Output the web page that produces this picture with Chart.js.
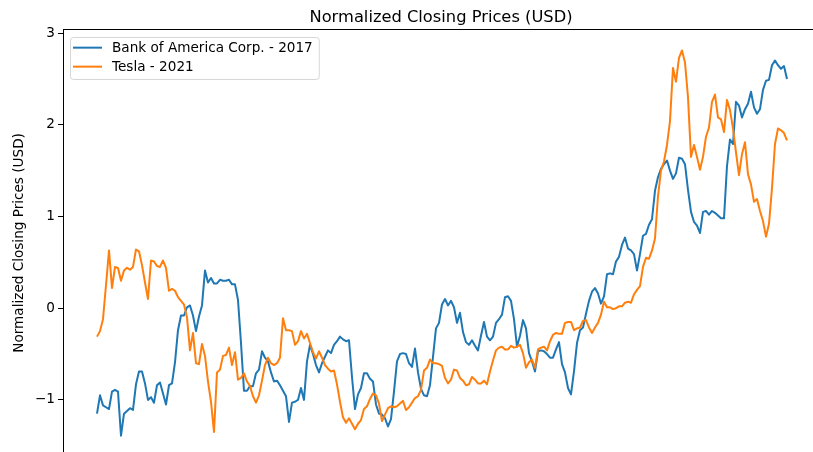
<!DOCTYPE html>
<html><head><meta charset="utf-8">
<script src="https://cdn.jsdelivr.net/npm/chart.js@4.4.1/dist/chart.umd.min.js"></script>
<style>
html,body{margin:0;padding:0;background:#fff;overflow:hidden;width:813px;height:452px;}
#wrap{position:absolute;left:0;top:0;width:882px;height:467px;}
</style></head><body>
<div id="wrap"><canvas id="c" width="882" height="467"></canvas></div>
<script>
const chartTitle = 'Normalized Closing Prices (USD)';
const yAxisLabel = 'Normalized Closing Prices (USD)';
const seriesLabels = ['Bank of America Corp. - 2017', 'Tesla - 2021'];
const seriesColors = ['#1f77b4', '#ff7f0e'];
const yTicks = [-1, 0, 1, 2, 3];

const bankOfAmerica2017 = [
  -1.15, -0.95, -1.06, -1.08, -1.10, -0.91, -0.89, -0.91, -1.39, -1.15,
  -1.12, -1.09, -1.11, -0.83, -0.69, -0.69, -0.82, -1.00, -0.97, -1.03,
  -0.84, -0.81, -0.93, -1.05, -0.84, -0.82, -0.59, -0.24, -0.08, -0.08,
  0.01, 0.03, -0.08, -0.25, -0.09, 0.03, 0.41, 0.28, 0.33, 0.27,
  0.27, 0.31, 0.30, 0.30, 0.31, 0.26, 0.26, 0.09, -0.38, -0.90,
  -0.90, -0.85, -0.85, -0.71, -0.67, -0.47, -0.54, -0.58, -0.70, -0.80,
  -0.79, -0.84, -0.90, -0.96, -1.24, -1.03, -1.02, -1.00, -0.87, -1.00,
  -0.58, -0.40, -0.50, -0.62, -0.70, -0.60, -0.53, -0.46, -0.49, -0.40,
  -0.36, -0.31, -0.34, -0.36, -0.35, -0.75, -1.10, -0.94, -0.87, -0.71,
  -0.71, -0.77, -0.80, -1.05, -1.15, -1.16, -1.20, -1.29, -1.21, -0.91,
  -0.58, -0.50, -0.49, -0.50, -0.60, -0.64, -0.44, -0.70, -0.88, -0.95,
  -0.96, -0.84, -0.53, -0.22, -0.16, 0.04, 0.10, 0.03, 0.08, 0.01,
  -0.16, -0.05, -0.26, -0.37, -0.40, -0.35, -0.41, -0.46, -0.30, -0.15,
  -0.31, -0.35, -0.31, -0.16, -0.12, -0.07, 0.12, 0.13, 0.08, -0.12,
  -0.42, -0.30, -0.13, -0.22, -0.49, -0.58, -0.69, -0.47, -0.46, -0.47,
  -0.50, -0.54, -0.54, -0.45, -0.37, -0.61, -0.70, -0.87, -0.94, -0.69,
  -0.38, -0.24, -0.21, -0.06, 0.08, 0.18, 0.22, 0.16, 0.05, 0.13,
  0.37, 0.38, 0.37, 0.51, 0.56, 0.69, 0.77, 0.65, 0.63, 0.59,
  0.41, 0.59, 0.79, 0.81, 0.91, 0.97, 1.28, 1.43, 1.52, 1.57,
  1.61, 1.50, 1.41, 1.47, 1.64, 1.63, 1.57, 1.29, 1.05, 0.94,
  0.90, 0.82, 1.05, 1.06, 1.02, 1.06, 1.04, 1.01, 0.98, 0.98,
  1.55, 1.84, 1.79, 2.25, 2.21, 2.08, 2.17, 2.23, 2.36, 2.19,
  2.12, 2.17, 2.38, 2.48, 2.49, 2.65, 2.70, 2.65, 2.61, 2.64,
  2.50
];

const tesla2021 = [
  -0.31, -0.25, -0.12, 0.25, 0.63, 0.22, 0.45, 0.44, 0.30, 0.41,
  0.44, 0.42, 0.45, 0.64, 0.62, 0.47, 0.28, 0.10, 0.52, 0.51,
  0.46, 0.45, 0.52, 0.44, 0.19, 0.21, 0.19, 0.12, 0.08, 0.04,
  -0.10, -0.46, -0.27, -0.60, -0.61, -0.39, -0.52, -0.80, -1.02, -1.35,
  -0.70, -0.67, -0.52, -0.51, -0.43, -0.62, -0.48, -0.78, -0.76, -0.71,
  -0.80, -0.85, -0.96, -1.03, -0.95, -0.79, -0.62, -0.54, -0.60, -0.62,
  -0.60, -0.54, -0.11, -0.24, -0.24, -0.25, -0.40, -0.36, -0.25, -0.33,
  -0.28, -0.38, -0.48, -0.55, -0.47, -0.54, -0.62, -0.66, -0.69, -0.68,
  -0.83, -1.02, -1.19, -1.25, -1.20, -1.26, -1.32, -1.26, -1.22, -1.10,
  -1.07, -0.99, -0.93, -0.95, -1.04, -1.23, -1.16, -1.09, -1.07, -1.08,
  -1.07, -1.04, -1.01, -1.11, -1.08, -1.03, -0.98, -0.96, -0.89, -0.68,
  -0.65, -0.56, -0.60, -0.60, -0.61, -0.63, -0.76, -0.82, -0.78, -0.67,
  -0.68, -0.76, -0.79, -0.84, -0.83, -0.75, -0.78, -0.82, -0.82, -0.79,
  -0.83, -0.69, -0.57, -0.46, -0.43, -0.42, -0.45, -0.45, -0.41, -0.43,
  -0.42, -0.40, -0.49, -0.65, -0.59, -0.56, -0.65, -0.45, -0.43, -0.42,
  -0.46, -0.36, -0.29, -0.27, -0.28, -0.28, -0.16, -0.15, -0.15, -0.24,
  -0.22, -0.21, -0.14, -0.13, -0.21, -0.27, -0.21, -0.16, -0.07, 0.07,
  0.01, 0.01, -0.01, 0.00, 0.02, 0.02, 0.06, 0.07, 0.06, 0.15,
  0.20, 0.24, 0.45, 0.55, 0.54, 0.63, 0.76, 1.22, 1.50, 1.60,
  1.78, 2.04, 2.62, 2.47, 2.73, 2.81, 2.68, 2.30, 1.65, 1.78,
  1.65, 1.51, 1.65, 1.87, 1.97, 2.25, 2.33, 2.08, 2.06, 1.92,
  2.27, 2.16, 1.96, 1.70, 1.45, 1.68, 1.81, 1.46, 1.35, 1.16,
  1.19, 1.06, 0.95, 0.78, 0.92, 1.31, 1.79, 1.96, 1.94, 1.91,
  1.83
];

const seriesValues = [bankOfAmerica2017, tesla2021];
const FONT = '"DejaVu Sans", "Liberation Sans", sans-serif';
const BASE = 13.6;

Chart.defaults.font.family = FONT;
Chart.defaults.color = '#000';

const legendBox = {
  id: 'legendBox',
  afterDatasetsDraw(chart) {
    const {ctx, chartArea} = chart;
    ctx.save();
    ctx.font = BASE + 'px ' + FONT;
    const x0 = chartArea.left + 7, y0 = chartArea.top + 7;
    const textW = Math.max(...seriesLabels.map(t => ctx.measureText(t).width));
    const w = 42 + textW + 6, h = 42;
    ctx.beginPath();
    ctx.roundRect(x0 + 0.5, y0 + 0.5, w, h, 3);
    ctx.fillStyle = 'rgba(255,255,255,0.8)';
    ctx.fill();
    ctx.strokeStyle = 'rgba(204,204,204,0.8)';
    ctx.lineWidth = 1;
    ctx.stroke();
    seriesLabels.forEach((label, i) => {
      const yy = y0 + 10.7 + i * 19;
      ctx.beginPath();
      ctx.moveTo(x0 + 3, yy);
      ctx.lineTo(x0 + 32, yy);
      ctx.strokeStyle = seriesColors[i];
      ctx.lineWidth = 2;
      ctx.stroke();
      ctx.fillStyle = '#000';
      ctx.textBaseline = 'middle';
      ctx.textAlign = 'left';
      ctx.fillText(label, x0 + 42, yy + 0.5);
    });
    ctx.restore();
  }
};

new Chart(document.getElementById('c'), {
  type: 'line',
  data: {
    datasets: seriesValues.map((vals, s) => ({
      label: seriesLabels[s],
      data: vals.map((v, i) => ({x: i, y: v})),
      borderColor: seriesColors[s],
      backgroundColor: seriesColors[s],
      borderWidth: 2,
      pointRadius: 0,
      tension: 0,
      fill: false,
      borderJoinStyle: 'round',
      order: 2 - s
    }))
  },
  options: {
    responsive: false,
    devicePixelRatio: 1,
    animation: false,
    layout: {padding: 0},
    plugins: {
      legend: {display: false},
      tooltip: {enabled: false},
      title: {
        display: true,
        text: chartTitle,
        color: '#000',
        font: {family: FONT, size: 16.3, weight: 'normal'},
        padding: {top: 7.5, bottom: 2.9}
      }
    },
    scales: {
      x: {
        type: 'linear',
        display: false,
        min: -11.33,
        max: 261.67
      },
      x2: {
        type: 'linear',
        position: 'top',
        display: true,
        min: 0, max: 1,
        grid: {display: false, drawOnChartArea: false, drawTicks: false},
        ticks: {display: false},
        border: {display: true, color: '#000', width: 1},
        afterFit: s => { s.height = 0; }
      },
      y: {
        type: 'linear',
        position: 'left',
        min: -1.61,
        max: 3.034,
        afterBuildTicks: s => { s.ticks = yTicks.map(v => ({value: v})); },
        afterFit: s => { s.width = 63; },
        grid: {display: true, drawOnChartArea: false, drawTicks: true, tickLength: 5, color: '#000', lineWidth: 1},
        border: {display: true, color: '#000', width: 1},
        ticks: {
          padding: 3,
          color: '#000',
          font: {family: FONT, size: BASE},
          callback: v => (v < 0 ? '\u2212' + Math.abs(v) : String(v))
        },
        title: {
          display: true,
          text: yAxisLabel,
          color: '#000',
          font: {family: FONT, size: BASE},
          padding: {top: 10.9, bottom: 0}
        }
      }
    }
  },
  plugins: [legendBox]
});
</script>
</body></html>
